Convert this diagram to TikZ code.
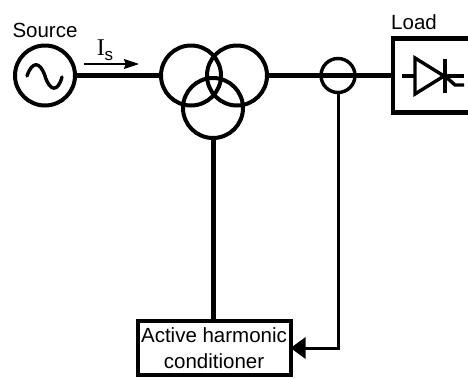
\documentclass[tikz,border=0pt]{standalone}
\usepackage{fontspec}
\usetikzlibrary{arrows.meta}
\setmainfont{Liberation Sans}
\newfontfamily\serifx{Liberation Serif}
\newfontfamily\sansx{Liberation Sans}
\begin{document}
\begin{tikzpicture}[x=1pt,y=-1pt,
  ring/.style={draw=black,circle,line width=4pt,minimum size=60pt,inner sep=0pt,fill=none},
  wire/.style={line width=5.5pt},
  thinwire/.style={line width=3pt},
  sym/.style={line width=3.4pt},
  lbl/.style={font=\fontsize{20.5}{24}\selectfont,inner sep=0pt}]
\useasboundingbox (0,0) rectangle (468,378);
\path[fill=white] (0,0) rectangle (468,378);
\node[ring] (src) at (45,75.5) {};
\node[ring] (t1) at (191,75.5) {};
\node[ring] (t2) at (237,75.5) {};
\node[ring] (t3) at (213,108) {};
\node[ring,minimum size=34pt,line width=3.4pt] (ct) at (338,75.5) {};
\node[minimum width=75pt,minimum height=74pt,inner sep=0pt,outer sep=0pt] (load) at (430.5,75.5) {};
\draw[line width=4.2pt] (load.north east) -- (load.north west) -- (load.south west) -- (load.south east);
\node[draw,line width=4pt,minimum width=153pt,minimum height=54pt,inner sep=0pt,outer sep=0pt,align=center,font=\fontsize{20.5}{26}\selectfont] (ahc) at (214,348) {Active harmonic\\conditioner};
\node[lbl,anchor=base] (srcl) at (45,37) {Source};
\node[lbl,anchor=base west] (loadl) at (391,29) {Load};
\node[inner sep=0pt,anchor=base] (is) at (105,55) {\serifx\fontsize{24}{26}\selectfont I\raisebox{-5pt}{\sansx\fontsize{17}{20}\selectfont s}};
\coordinate (a1) at (84,64);
\coordinate (a2) at (139,64);
\draw[line width=1.2pt,-{Stealth[length=15pt,width=10pt,inset=1.5pt]}] (a1) -- (a2);
\draw[wire] (src) -- (t1);
\draw[wire] (t2) -- (load);
\draw[wire,line width=5pt] (t3.south) -- (t3.south |- ahc.north);
\coordinate (corner) at (ct.south |- ahc.east);
\draw[thinwire,-{Triangle[length=15pt,width=21pt]}] (ct) -- (corner) -- (ahc.east);
\draw[sym,line cap=round] (27,76) .. controls (32,61) and (40,61) .. (45,76) .. controls (50,92) and (58,92) .. (62,77);
\draw[sym] (402,76) -- (415,76);
\draw[sym] (415,58) -- (415,94) -- (444,76) -- cycle;
\draw[sym] (445,59) -- (445,92.5);
\draw[sym] (445,76) -- (464,76);
\draw[sym] (445,76) -- (455,85) -- (464,85);
\end{tikzpicture}
\end{document}
